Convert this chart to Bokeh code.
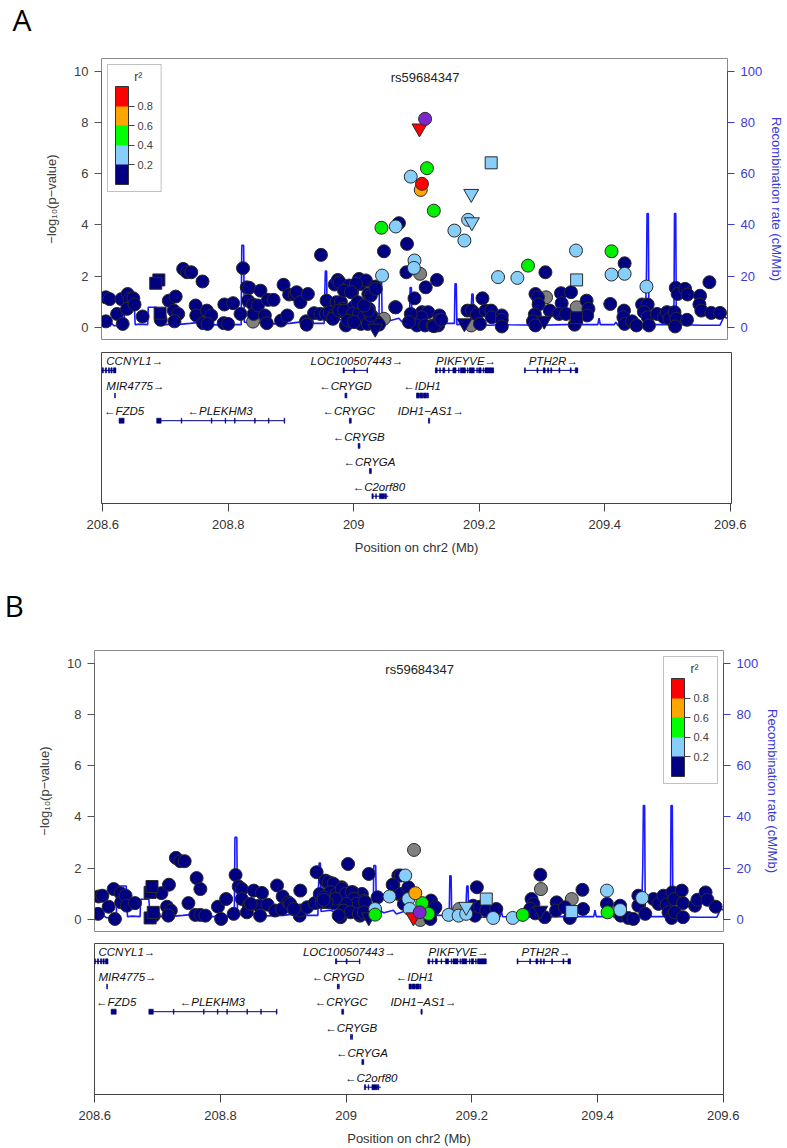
from bokeh.plotting import figure
from bokeh.models import (Range1d, LinearAxis, FixedTicker, ColorBar, LinearColorMapper,
                          Label, CustomJSTickFormatter, BoxAnnotation)
from bokeh.layouts import column
from bokeh.embed import file_html
from bokeh.resources import INLINE
from bokeh.core.properties import value

# ---------------- data ----------------
LEAD_SNP = "rs59684347"
LEAD_POS = 209.117
R2_TICKS = [0.2, 0.4, 0.6, 0.8]
X_TICKS = [208.6, 208.8, 209.0, 209.2, 209.4, 209.6]
LEFT_TICKS = [0, 2, 4, 6, 8, 10]
RIGHT_TICKS = [0, 20, 40, 60, 80, 100]

# recombination rate (cM/Mb)
RECOMB_POS = [208.598, 208.612, 208.614, 208.618, 208.634, 208.636, 208.650, 208.652, 208.660, 208.672,
              208.673, 208.686, 208.688, 208.689, 208.690, 208.700, 208.712, 208.716, 208.719, 208.740,
              208.760, 208.762, 208.790, 208.800, 208.802, 208.822, 208.823, 208.826, 208.827, 208.850,
              208.858, 208.860, 208.900, 208.930, 208.935, 208.938, 208.955, 208.957, 208.959, 208.960,
              208.975, 208.990, 209.005, 209.020, 209.035, 209.043, 209.044, 209.047, 209.048, 209.060,
              209.075, 209.080, 209.092, 209.093, 209.095, 209.096, 209.120, 209.150, 209.164, 209.165,
              209.167, 209.168, 209.190, 209.192, 209.194, 209.195, 209.220, 209.245, 209.247, 209.249,
              209.300, 209.340, 209.394, 209.396, 209.398, 209.420, 209.423, 209.426, 209.470, 209.472,
              209.473, 209.475, 209.476, 209.500, 209.516, 209.517, 209.519, 209.520, 209.560, 209.590,
              209.596, 209.602]
RECOMB_RATE = [0.5, 0.5, 1.5, 0.6, 0.8, 13, 13, 1, 1.2, 1,
               7.8, 7.8, 1, 5, 0.8, 1, 1.2, 3.5, 1, 1.5,
               2, 0.8, 1, 2.5, 1, 1, 32, 32, 2, 1.5,
               3, 1.2, 1.5, 2.5, 4.5, 1.5, 1.5, 22, 22, 3,
               3.5, 2, 3.5, 2.5, 4, 3, 21, 21, 4, 2.5,
               3.5, 2, 3, 15.5, 15.5, 2, 1.5, 1.5, 1.5, 17,
               17, 1, 1.5, 13, 13, 1, 0.8, 1, 3, 1,
               0.8, 1, 1, 3.5, 1, 1, 2, 0.8, 1, 20,
               44.5, 44.5, 1, 1, 1, 44.5, 44.5, 1, 0.8, 0.8,
               4, 3.5]

# ---- panel A : (position Mb, -log10 p) ----
A_NAVY = [(208.605, 1.17), (208.611, 1.10), (208.605, 0.23), (208.623, 0.52), (208.632, 0.13), (208.630, 1.10),
          (208.640, 1.30), (208.643, 1.10), (208.639, 0.72), (208.649, 1.13), (208.651, 0.89), (208.664, 0.42),
          (208.693, 0.29), (208.706, 1.04), (208.717, 1.20), (208.714, 0.65), (208.721, 0.52), (208.715, 0.23),
          (208.729, 2.28), (208.735, 2.15), (208.742, 2.15), (208.749, 0.85), (208.750, 0.46), (208.760, 1.79),
          (208.761, 0.16), (208.767, 0.65), (208.774, 0.46), (208.768, 0.13), (208.795, 0.89), (208.794, 0.16),
          (208.801, 0.13), (208.809, 0.94), (208.821, 0.52), (208.825, 2.31), (208.831, 1.56), (208.835, 1.54),
          (208.833, 1.04), (208.841, 0.89), (208.842, 0.52), (208.849, 0.85), (208.853, 1.43), (208.860, 0.46),
          (208.863, 0.16), (208.865, 1.07), (208.874, 1.07), (208.886, 0.26), (208.890, 1.66), (208.896, 0.46),
          (208.899, 1.28), (208.908, 1.28), (208.911, 1.37), (208.917, 0.98), (208.926, 0.23), (208.927, 0.10),
          (208.929, 1.30), (208.939, 0.55), (208.950, 2.83), (208.949, 0.52), (208.959, 1.04), (208.961, 0.50),
          (208.969, 0.35), (208.972, 1.67), (208.977, 1.85), (208.980, 1.76), (208.975, 0.98), (208.982, 0.98),
          (208.985, 0.72), (208.990, 0.52), (208.990, 0.07), (208.995, 1.63), (209.000, 1.37), (209.002, 0.78),
          (208.999, 0.33), (209.006, 0.46), (209.013, 1.69), (209.011, 1.89), (209.017, 0.59), (209.019, 0.26),
          (209.022, 1.83), (209.026, 1.30), (209.027, 0.72), (209.031, 0.46), (209.040, 0.20), (209.037, 1.59),
          (209.051, 2.97), (209.043, 0.10), (209.069, 0.78), (208.958, 0.52), (208.964, 0.59), (208.971, 0.46),
          (208.969, 0.33), (208.979, 0.65), (208.987, 0.65), (209.001, 0.52), (208.993, 0.26), (209.011, 0.52),
          (209.014, 0.13), (209.019, 0.42), (209.025, 0.13), (209.030, 0.46), (209.003, 0.20), (209.026, 0.65),
          (208.987, 1.43), (209.006, 1.70), (208.998, 1.37), (209.009, 0.98), (209.019, 0.85), (209.030, 1.24),
          (209.038, 1.50), (209.075, 4.07), (209.088, 3.26), (209.087, 2.15), (209.136, 1.85), (209.118, 1.56),
          (209.100, 1.13), (209.209, 1.13), (209.310, 2.15), (209.294, 1.30), (209.298, 1.17), (209.299, 0.89),
          (209.317, 0.65), (209.293, 0.50), (209.290, 0.23), (209.294, 0.07), (209.335, 1.33), (209.351, 1.37),
          (209.336, 0.94), (209.332, 0.52), (209.343, 0.52), (209.357, 0.10), (209.376, 1.04), (209.379, 0.72),
          (209.377, 0.46), (209.414, 0.91), (209.436, 0.65), (209.435, 0.39), (209.437, 0.13), (209.449, 0.23),
          (209.456, 0.07), (209.465, 0.89), (209.474, 0.89), (209.468, 0.59), (209.474, 0.39), (209.476, 0.07),
          (209.489, 0.52), (209.500, 0.39), (209.505, 0.59), (209.509, 0.33), (209.519, 1.54), (209.522, 1.30),
          (209.534, 1.50), (209.538, 1.28), (209.517, 0.59), (209.520, 0.33), (209.518, 0.03), (209.537, 0.29),
          (209.558, 1.23), (209.557, 0.89), (209.560, 0.65), (209.576, 0.56), (209.590, 0.56), (209.573, 1.76),
          (209.437, 2.50), (209.112, 0.59), (209.122, 0.59), (209.111, 0.39), (209.104, 0.07), (209.117, 0.07),
          (209.129, 0.07), (209.140, 0.46), (209.140, 0.29), (209.138, 0.07), (209.185, 0.65), (209.192, 0.65),
          (209.200, 0.50), (209.205, 0.13), (209.214, 0.65), (209.223, 0.65), (209.224, 0.39), (209.240, 0.46),
          (209.240, 0.29), (209.240, 0.03), (209.094, 0.52), (209.091, 0.20), (209.070, 0.78), (209.131, 0.04),
          (209.143, 0.29)]
A_NAVY_SQ = [(208.690, 1.85), (208.685, 1.72), (208.692, 0.55), (209.360, 0.37)]
A_NAVY_TRI = [(209.037, -0.05), (209.180, 0.16), (209.308, 0.26)]
A_GREY = [(208.841, 0.22), (208.993, 0.16), (209.047, 0.29), (209.109, 2.09), (209.100, 0.29), (209.191, 0.07),
          (209.311, 1.17), (209.360, 0.78), (209.051, 0.33), (209.035, 0.33)]
A_LBLUE = [(209.048, 2.02), (209.070, 3.94), (209.100, 2.61), (209.099, 2.32), (209.094, 5.89), (209.164, 3.78),
           (209.180, 3.39), (209.186, 4.20), (209.234, 1.96), (209.265, 1.93), (209.359, 3.00), (209.416, 2.06),
           (209.437, 2.09), (209.472, 1.59)]
A_LBLUE_SQ = [(209.223, 6.43), (209.360, 1.85)]
A_LBLUE_TRI = [(209.191, 5.22), (209.192, 4.11)]
A_GREEN = [(209.047, 3.89), (209.120, 6.22), (209.131, 4.56), (209.282, 2.41), (209.416, 2.97)]
A_ORANGE = [(209.110, 5.37)]
A_RED = [(209.112, 5.61)]
A_RED_TRI = [(209.108, 7.78)]
A_LEAD = [(209.117, 8.15)]

# ---- panel B ----
B_NAVY = [(208.606, 0.89), (208.612, 0.92), (208.605, 0.21), (208.622, 0.49), (208.632, 0.01), (208.630, 1.18),
          (208.641, 1.02), (208.642, 0.66), (208.649, 0.92), (208.651, 0.53), (208.664, 0.63), (208.694, 0.14),
          (208.706, 1.02), (208.718, 1.35), (208.715, 0.49), (208.721, 0.34), (208.717, 0.14), (208.729, 2.40),
          (208.736, 2.27), (208.743, 2.27), (208.749, 0.63), (208.762, 1.61), (208.768, 1.18), (208.760, 0.17),
          (208.768, 0.17), (208.776, 0.14), (208.796, 0.49), (208.801, 0.01), (208.809, 0.79), (208.821, 0.21),
          (208.824, 1.73), (208.829, 1.28), (208.834, 1.18), (208.834, 0.79), (208.845, 0.53), (208.842, 0.27),
          (208.853, 1.12), (208.861, 0.53), (208.866, 1.03), (208.863, 0.14), (208.875, 0.57), (208.890, 1.32),
          (208.899, 0.89), (208.887, 0.34), (208.898, 0.40), (208.908, 0.66), (208.916, 0.40), (208.927, 1.12),
          (208.926, 0.14), (208.927, 0.34), (208.938, 0.47), (208.950, 0.63), (208.953, 1.84), (208.958, 0.99),
          (208.961, 0.66), (208.969, 1.45), (208.977, 1.41), (208.972, 0.66), (208.980, 0.63), (208.986, 1.05),
          (208.993, 1.25), (209.003, 2.16), (208.991, 0.08), (208.996, 0.27), (209.004, 0.40), (209.011, 1.05),
          (209.016, 0.60), (209.025, 0.99), (209.022, 0.14), (209.028, 0.73), (209.036, 1.77), (209.050, 0.86),
          (209.075, 1.35), (209.083, 1.71), (209.083, 0.99), (208.967, 1.51), (208.972, 1.45), (208.980, 1.38),
          (208.975, 1.06), (208.985, 0.99), (208.993, 1.19), (208.999, 0.99), (209.009, 1.06), (209.012, 0.80),
          (209.017, 0.60), (209.030, 0.67), (209.000, 0.60), (208.983, 0.80), (208.969, 0.67), (208.964, 0.86),
          (208.996, 0.34), (209.007, 0.27), (209.020, 0.21), (208.988, 0.14), (209.028, 0.27), (208.911, 0.60),
          (208.917, 0.40), (208.964, 0.76), (208.848, 0.60), (209.087, 1.71), (209.074, 1.35), (209.087, 0.99),
          (209.099, 1.25), (209.092, 0.60), (209.135, 0.73), (209.140, 0.40), (209.134, 0.01), (209.208, 1.25),
          (209.205, 0.14), (209.202, 0.53), (209.213, 0.49), (209.223, 0.34), (209.239, 0.40), (209.295, 0.79),
          (209.298, 0.60), (209.309, 1.74), (209.293, 0.40), (209.301, 0.23), (209.316, 0.08), (209.335, 0.66),
          (209.334, 0.34), (209.348, 0.47), (209.356, 0.05), (209.376, 1.15), (209.377, 0.40), (209.415, 0.60),
          (209.436, 0.53), (209.437, 0.14), (209.449, 0.05), (209.457, 0.01), (209.465, 0.92), (209.465, 0.53),
          (209.476, 0.21), (209.489, 0.79), (209.497, 0.60), (209.505, 0.92), (209.510, 0.57), (209.513, 0.27),
          (209.518, 0.05), (209.519, 1.05), (209.522, 0.79), (209.534, 1.12), (209.536, 0.63), (209.523, 0.27),
          (209.536, 0.08), (209.555, 0.53), (209.559, 0.76), (209.572, 1.05), (209.575, 0.76), (209.588, 0.49),
          (209.142, 0.47)]
B_NAVY_SQ = [(208.688, 1.05), (208.691, 1.28), (208.688, 0.05), (208.693, 0.27)]
B_NAVY_TRI = [(209.036, 0.08), (209.309, 0.34)]
B_GREY = [(209.108, 2.71), (209.118, -0.03), (209.180, 0.40), (209.310, 1.18), (209.359, 0.79), (208.990, 0.66)]
B_LBLUE = [(209.046, 0.40), (209.069, 0.89), (209.094, 1.71), (209.099, 0.79), (209.101, 0.40), (209.163, 0.17),
           (209.179, 0.14), (209.191, 0.21), (209.234, 0.05), (209.265, 0.05), (209.415, 1.12), (209.436, 0.36),
           (209.471, 0.83)]
B_LBLUE_SQ = [(209.223, 0.79), (209.359, 0.30)]
B_LBLUE_TRI = [(209.191, 0.49)]
B_GREEN = [(209.046, 0.18), (209.121, 0.63), (209.131, 0.21), (209.281, 0.17), (209.416, 0.27)]
B_ORANGE = [(209.110, 1.02)]
B_RED = []
B_RED_TRI = [(209.107, 0.08)]
B_LEAD = [(209.117, 0.27)]

# ---- genes ----
GENE_NAMES = ["CCNYL1", "LOC100507443", "PIKFYVE", "PTH2R", "MIR4775", "CRYGD", "IDH1",
              "FZD5", "PLEKHM3", "CRYGC", "IDH1-AS1", "CRYGB", "CRYGA", "C2orf80"]
GENE_LABELS = ["CCNYL1\u2192", "LOC100507443\u2192", "PIKFYVE\u2192", "PTH2R\u2192", "MIR4775\u2192",
               "\u2190CRYGD", "\u2190IDH1", "\u2190FZD5", "\u2190PLEKHM3", "\u2190CRYGC",
               "IDH1\u2212AS1\u2192", "\u2190CRYGB", "\u2190CRYGA", "\u2190C2orf80"]
GENE_START = [208.598, 208.983, 209.130, 209.272, 208.619, 208.986, 209.100,
              208.626, 208.686, 208.993, 209.119, 209.007, 209.025, 209.029]
GENE_END = [208.621, 209.022, 209.223, 209.357, 208.620, 208.989, 209.119,
            208.634, 208.890, 208.996, 209.121, 209.010, 209.028, 209.055]
GENE_ROW = [1, 1, 1, 1, 2, 2, 2, 3, 3, 3, 3, 4, 5, 6]
GENE_LABEL_X = [208.651, 209.005, 209.179, 209.318, 208.652, 208.987, 209.109,
                208.634, 208.787, 208.992, 209.123, 209.008, 209.025, 209.040]
GENE_EXONS = [
    [(208.599, 208.601), (208.604, 208.606), (208.609, 208.611), (208.613, 208.615), (208.617, 208.621)],
    [(208.983, 208.985), (209.000, 209.0015), (209.021, 209.022)],
    [(209.130, 209.133), (209.137, 209.138), (209.142, 209.145), (209.151, 209.152), (209.158, 209.163),
     (209.167, 209.168), (209.170, 209.178), (209.181, 209.182), (209.184, 209.192), (209.196, 209.197),
     (209.199, 209.203), (209.206, 209.207), (209.209, 209.223)],
    [(209.272, 209.2735), (209.292, 209.2935), (209.302, 209.305), (209.309, 209.3105), (209.314, 209.3155),
     (209.327, 209.3285), (209.345, 209.3465), (209.353, 209.357)],
    [(208.619, 208.620)],
    [(208.986, 208.987), (208.988, 208.989)],
    [(209.100, 209.104), (209.105, 209.110), (209.111, 209.116), (209.117, 209.119)],
    [(208.626, 208.634)],
    [(208.686, 208.693), (208.725, 208.726), (208.773, 208.774), (208.795, 208.796), (208.810, 208.811),
     (208.842, 208.843), (208.864, 208.865), (208.889, 208.890)],
    [(208.993, 208.996)],
    [(209.119, 209.121)],
    [(209.007, 209.008), (209.009, 209.010)],
    [(209.025, 209.028)],
    [(209.029, 209.031), (209.035, 209.036), (209.041, 209.049), (209.050, 209.052)],
]

# ---------------- styles ----------------
NAVY = "#000080"
LBLUE = "#87CEFA"
GREEN = "#00EE00"
ORANGE = "#FFA500"
RED = "#FF0000"
PURPLE = "#7D26CD"
GREY = "#808080"
BLUE = "#1A1AFF"
AXBLUE = "#3B3BD6"
FONT = "Liberation Sans"
LEGEND_PALETTE = [NAVY, LBLUE, "#00FF00", ORANGE, RED]

W = 787
FRAME_H = 281
Y_RANGE = (-0.48, 10.51)


def base_axis_style(ax, color, size="13px"):
    ax.major_label_text_font = FONT
    ax.major_label_text_font_size = size
    ax.major_label_text_color = color
    ax.axis_label_text_font = FONT
    ax.axis_label_text_font_size = size
    ax.axis_label_text_font_style = "normal"
    ax.axis_label_text_color = color
    ax.minor_tick_line_color = None
    ax.major_tick_in = 0
    ax.major_tick_out = 7


def header(height, letter, lx, ly):
    h = figure(width=W, height=height, x_range=Range1d(0, W), y_range=Range1d(0, height),
               output_backend="svg", toolbar_location=None, x_axis_location=None,
               y_axis_location=None, min_border=0, frame_align=False)
    h.grid.visible = False
    h.outline_line_color = None
    h.text(x=[lx], y=[ly], text=[letter], text_font=value("Open Sans"), text_font_size="30px",
           text_color="black", text_align="left", text_baseline="middle")
    return h


def assoc_panel(height, bl, br, bt, xr, frame_w, groups, leg_left):
    p = figure(width=W, height=height, x_range=Range1d(*xr), y_range=Range1d(*Y_RANGE),
               output_backend="svg", toolbar_location=None, x_axis_location=None,
               y_axis_location="left", min_border_left=bl, min_border_right=br,
               min_border_top=bt, min_border_bottom=6, frame_align=False)
    p.grid.visible = False
    p.outline_line_color = "#8a8a8a"
    ya = p.yaxis[0]
    ya.ticker = FixedTicker(ticks=LEFT_TICKS)
    ya.bounds = (0, 10)
    ya.axis_label = "\u2212log\u2081\u2080(p\u2212value)"
    base_axis_style(ya, "#404040")
    ya.axis_line_color = "#666666"
    ya.major_tick_line_color = "#555555"
    ya.major_label_standoff = 6
    ya.axis_label_standoff = 12

    p.extra_y_ranges = {"recomb": Range1d(Y_RANGE[0] * 10, Y_RANGE[1] * 10)}
    ra = LinearAxis(y_range_name="recomb", ticker=FixedTicker(ticks=RIGHT_TICKS),
                    axis_label="Recombination rate (cM/Mb)")
    base_axis_style(ra, AXBLUE)
    ra.bounds = (0, 100)
    ra.axis_line_color = AXBLUE
    ra.major_tick_line_color = AXBLUE
    ra.major_label_standoff = 6
    ra.axis_label_standoff = 4
    p.add_layout(ra, "right")

    p.line(RECOMB_POS, RECOMB_RATE, y_range_name="recomb", line_color=BLUE, line_width=1.6)

    for pts, color, marker, size in groups:
        if not pts:
            continue
        xs = [a for a, b in pts]
        ys = [b for a, b in pts]
        p.scatter(xs, ys, marker=marker, size=size, fill_color=color,
                  line_color="#2b2b2b", line_width=1)

    p.add_layout(Label(x=LEAD_POS, y=9.77, text=LEAD_SNP, text_align="center",
                       text_baseline="middle", text_font=FONT, text_font_size="13px",
                       text_color="#222222"))

    # legend frame (pixel offsets from frame top-left converted to data units)
    def fx(dx):
        return xr[0] + dx * (xr[1] - xr[0]) / frame_w

    def fy(dy):
        return Y_RANGE[1] - dy * (Y_RANGE[1] - Y_RANGE[0]) / FRAME_H

    p.add_layout(BoxAnnotation(left=fx(leg_left), right=fx(leg_left + 54), top=fy(6), bottom=fy(133),
                               fill_color="white", fill_alpha=1.0, line_color="#333333",
                               line_width=1, level="annotation"))
    p.add_layout(Label(x=fx(leg_left + 31), y=fy(18), text="r\u00b2", text_align="center",
                       text_baseline="middle", text_font=FONT, text_font_size="12px",
                       text_color="#333333"))
    mapper = LinearColorMapper(palette=LEGEND_PALETTE, low=0, high=1)
    cb = ColorBar(color_mapper=mapper, ticker=FixedTicker(ticks=R2_TICKS), width=13, height=98,
                  title=None, location=(leg_left + 1, FRAME_H - 133), margin=0, padding=7,
                  major_label_text_font=FONT, major_label_text_font_size="11px",
                  major_label_text_color="#444444", label_standoff=3,
                  major_tick_in=0, major_tick_out=6, major_tick_line_color="#444444",
                  bar_line_color="#333333", border_line_color=None,
                  background_fill_alpha=0.0)
    p.add_layout(cb, "center")
    return p


def gene_panel(height, bl, br, bt, bb, xr):
    p = figure(width=W, height=height, x_range=Range1d(*xr), y_range=Range1d(6.29, 0.29),
               output_backend="svg", toolbar_location=None, y_axis_location=None,
               x_axis_location="below", min_border_left=bl, min_border_right=br,
               min_border_top=bt, min_border_bottom=bb, frame_align=False)
    p.grid.visible = False
    p.outline_line_color = "#444444"
    xa = p.xaxis[0]
    xa.ticker = FixedTicker(ticks=X_TICKS)
    xa.formatter = CustomJSTickFormatter(code="return tick.toFixed(1).replace(/\\.0$/, '');")
    xa.axis_label = "Position on chr2 (Mb)"
    base_axis_style(xa, "#333333")
    xa.major_tick_out = 8
    xa.axis_line_color = "#444444"
    xa.major_tick_line_color = "#444444"
    xa.major_label_standoff = 8
    xa.axis_label_standoff = 8

    p.segment(x0=GENE_START, y0=GENE_ROW, x1=GENE_END, y1=GENE_ROW, line_color=NAVY, line_width=1)
    lefts, rights, tops, bots = [], [], [], []
    for row, exons in zip(GENE_ROW, GENE_EXONS):
        for s, e in exons:
            lefts.append(s)
            rights.append(e)
            tops.append(row - 0.1)
            bots.append(row + 0.1)
    p.quad(left=lefts, right=rights, top=tops, bottom=bots, fill_color=NAVY, line_color=NAVY,
           line_width=0.6)
    p.text(x=GENE_LABEL_X, y=[r - 0.37 for r in GENE_ROW], text=GENE_LABELS,
           text_align="center", text_baseline="middle", text_font=value(FONT),
           text_font_size="11.5px", text_font_style="italic", text_color="#111111")
    return p


def groups_of(navy, navy_sq, navy_tri, grey, lb, lb_sq, lb_tri, green, orange, red, red_tri, lead):
    return [
        (grey, GREY, "circle", 13),
        (navy, NAVY, "circle", 13),
        (navy_sq, NAVY, "square", 12),
        (navy_tri, NAVY, "inverted_triangle", 15),
        (lb, LBLUE, "circle", 13),
        (lb_sq, LBLUE, "square", 12),
        (lb_tri, LBLUE, "inverted_triangle", 15),
        (green, GREEN, "circle", 13),
        (orange, ORANGE, "circle", 13),
        (red, RED, "circle", 13),
        (red_tri, RED, "inverted_triangle", 15),
        (lead, PURPLE, "circle", 13),
    ]


XR_A = (208.598, 209.602)
XR_B = (208.5995, 209.6005)

hA = header(48, "A", 12, 29)
pA = assoc_panel(297, 101, 56, 10, XR_A, 630,
                 groups_of(A_NAVY, A_NAVY_SQ, A_NAVY_TRI, A_GREY, A_LBLUE, A_LBLUE_SQ, A_LBLUE_TRI,
                           A_GREEN, A_ORANGE, A_RED, A_RED_TRI, A_LEAD),
                 6)
gA = gene_panel(215, 101, 56, 7, 57, XR_A)
hB = header(70, "B", 4, 25)
pB = assoc_panel(307, 94, 64, 20, XR_B, 629,
                 groups_of(B_NAVY, B_NAVY_SQ, B_NAVY_TRI, B_GREY, B_LBLUE, B_LBLUE_SQ, B_LBLUE_TRI,
                           B_GREEN, B_ORANGE, B_RED, B_RED_TRI, B_LEAD),
                 629 - 60)
gB = gene_panel(211, 94, 64, 6, 54, XR_B)

layout = column(hA, pA, gA, hB, pB, gB, spacing=0)

with open("out.html", "w") as f:
    f.write(file_html(layout, INLINE))
